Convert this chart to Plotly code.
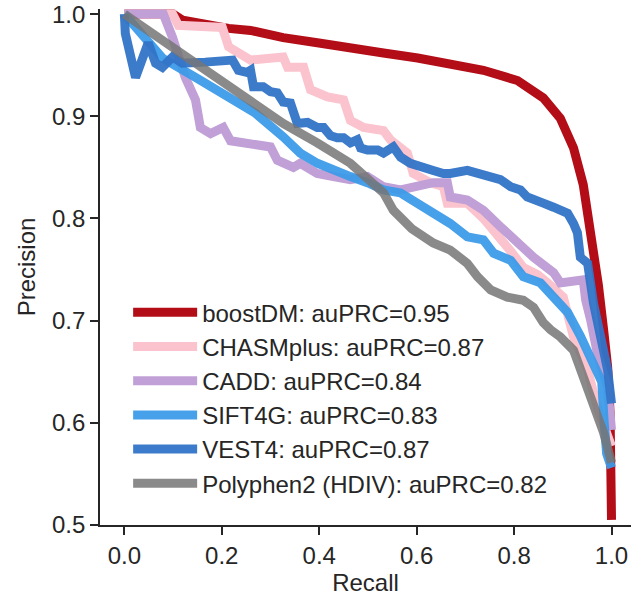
import plotly.graph_objects as go

# ---- data ----
tools = ["boostDM", "CHASMplus", "CADD", "SIFT4G", "VEST4", "Polyphen2 (HDIV)"]
auprc = [0.95, 0.87, 0.84, 0.83, 0.87, 0.82]
colors = ["#b30d18", "#fbc3cd", "#c0a0d6", "#3d9be9", "#3274c8", "#767676"]

boostdm_recall = [0.0, 0.05, 0.10, 0.12, 0.166, 0.214, 0.259, 0.326, 0.396, 0.464, 0.532, 0.602,
                  0.669, 0.737, 0.807, 0.86, 0.895, 0.922, 0.942, 0.953, 0.963, 0.973, 0.984,
                  0.992, 0.997, 0.999, 1.0]
boostdm_precision = [1.0, 1.0, 1.0, 0.994, 0.989, 0.986, 0.984, 0.977, 0.972, 0.968, 0.962, 0.957,
                     0.950, 0.945, 0.935, 0.918, 0.898, 0.869, 0.833, 0.80, 0.772, 0.735, 0.69,
                     0.655, 0.61, 0.56, 0.505]

chasm_recall = [0.0, 0.099, 0.111, 0.201, 0.214, 0.259, 0.326, 0.335, 0.368, 0.382, 0.417, 0.450,
                0.464, 0.491, 0.532, 0.546, 0.581, 0.593, 0.628, 0.655, 0.663, 0.704, 0.737,
                0.772, 0.793, 0.819, 0.848, 0.869, 0.901, 0.922, 0.951, 0.971, 0.992, 1.0]
chasm_precision = [1.0, 1.0, 0.989, 0.987, 0.968, 0.955, 0.958, 0.948, 0.948, 0.926, 0.919, 0.916,
                   0.896, 0.889, 0.886, 0.877, 0.864, 0.844, 0.835, 0.831, 0.815, 0.815, 0.80,
                   0.782, 0.768, 0.752, 0.745, 0.737, 0.723, 0.684, 0.652, 0.615, 0.590, 0.577]

cadd_recall = [0.0, 0.08, 0.099, 0.125, 0.146, 0.152, 0.156, 0.177, 0.203, 0.218, 0.259, 0.300,
               0.314, 0.347, 0.361, 0.396, 0.429, 0.464, 0.499, 0.532, 0.567, 0.602, 0.634,
               0.663, 0.669, 0.704, 0.737, 0.772, 0.807, 0.840, 0.881, 0.895, 0.942, 0.947,
               0.957, 0.971, 0.992, 1.0]
cadd_precision = [1.0, 1.0, 0.977, 0.938, 0.916, 0.893, 0.889, 0.883, 0.889, 0.876, 0.874, 0.870,
                  0.857, 0.850, 0.854, 0.844, 0.841, 0.838, 0.841, 0.831, 0.828, 0.831, 0.835,
                  0.835, 0.821, 0.818, 0.808, 0.792, 0.776, 0.762, 0.747, 0.737, 0.740, 0.720,
                  0.701, 0.668, 0.635, 0.593]

sift_recall = [0.0, 0.078, 0.146, 0.214, 0.269, 0.326, 0.361, 0.396, 0.429, 0.464, 0.499, 0.532,
               0.567, 0.602, 0.634, 0.669, 0.704, 0.737, 0.758, 0.793, 0.819, 0.854, 0.881,
               0.91, 0.936, 0.963, 0.98, 0.985, 0.99, 1.0]
sift_precision = [1.0, 0.957, 0.938, 0.919, 0.903, 0.880, 0.864, 0.854, 0.847, 0.841, 0.835, 0.828,
                  0.825, 0.815, 0.806, 0.795, 0.782, 0.779, 0.766, 0.759, 0.743, 0.737, 0.723,
                  0.708, 0.685, 0.660, 0.640, 0.60, 0.57, 0.556]

vest_recall = [0.0, 0.002, 0.023, 0.043, 0.049, 0.064, 0.078, 0.099, 0.119, 0.166, 0.201, 0.222,
               0.234, 0.252, 0.259, 0.265, 0.285, 0.300, 0.314, 0.326, 0.341, 0.347, 0.355,
               0.376, 0.396, 0.409, 0.423, 0.437, 0.450, 0.464, 0.478, 0.485, 0.499, 0.520,
               0.532, 0.552, 0.567, 0.587, 0.608, 0.622, 0.634, 0.655, 0.669, 0.704, 0.731,
               0.758, 0.772, 0.793, 0.813, 0.827, 0.848, 0.860, 0.881, 0.895, 0.910, 0.922,
               0.930, 0.936, 0.951, 0.963, 0.977, 0.992, 1.0]
vest_precision = [1.0, 0.981, 0.938, 0.965, 0.972, 0.952, 0.948, 0.958, 0.952, 0.953, 0.953, 0.955,
                  0.945, 0.943, 0.945, 0.929, 0.929, 0.924, 0.923, 0.914, 0.913, 0.904, 0.893,
                  0.894, 0.889, 0.889, 0.881, 0.879, 0.879, 0.874, 0.877, 0.869, 0.867, 0.867,
                  0.864, 0.870, 0.860, 0.854, 0.850, 0.847, 0.847, 0.844, 0.844, 0.847, 0.844,
                  0.840, 0.838, 0.831, 0.828, 0.821, 0.818, 0.815, 0.811, 0.808, 0.805, 0.795,
                  0.786, 0.762, 0.756, 0.717, 0.684, 0.652, 0.619]

polyphen_recall = [0.0, 0.269, 0.326, 0.396, 0.464, 0.532, 0.552, 0.59, 0.634, 0.669, 0.704,
                   0.725, 0.752, 0.786, 0.819, 0.840, 0.86, 0.875, 0.895, 0.922, 0.942, 0.963,
                   0.984, 1.0]
polyphen_precision = [1.0, 0.912, 0.893, 0.874, 0.854, 0.825, 0.808, 0.79, 0.776, 0.769, 0.756,
                      0.743, 0.730, 0.723, 0.720, 0.713, 0.698, 0.691, 0.684, 0.671, 0.645, 0.615,
                      0.590, 0.561]

x_ticks = [0.0, 0.2, 0.4, 0.6, 0.8, 1.0]
y_ticks = [0.5, 0.6, 0.7, 0.8, 0.9, 1.0]

series = [
    (boostdm_recall, boostdm_precision),
    (chasm_recall, chasm_precision),
    (cadd_recall, cadd_precision),
    (sift_recall, sift_precision),
    (vest_recall, vest_precision),
    (polyphen_recall, polyphen_precision),
]
opacities = [1.0, 1.0, 1.0, 0.95, 0.95, 0.85]

FONT = "Liberation Sans, Arial, sans-serif"
AX = "#262626"
FS = 24

fig = go.Figure()
for name, score, col, op, (rx, py) in zip(tools, auprc, colors, opacities, series):
    fig.add_trace(go.Scatter(
        x=rx, y=py, mode="lines", name=f"{name}: auPRC={score:.2f}",
        line=dict(color=col, width=9), opacity=op,
    ))

fig.update_layout(
    width=631, height=596,
    margin=dict(l=100, r=0, t=9, b=71),
    paper_bgcolor="white", plot_bgcolor="white",
    font=dict(family=FONT, size=FS, color=AX),
    showlegend=True,
    legend=dict(
        x=0.053, y=0.455, xanchor="left", yanchor="top",
        bgcolor="rgba(0,0,0,0)", borderwidth=0,
        font=dict(family=FONT, size=FS, color=AX),
        itemwidth=64, tracegroupgap=0,
    ),
)
fig.update_xaxes(
    automargin=False, ticklabeloverflow="allow",
    range=[-0.05, 1.04], tickvals=x_ticks, ticktext=[f"{v:.1f}" for v in x_ticks],
    showline=True, linecolor=AX, linewidth=1.6, mirror=False,
    ticks="outside", ticklen=8, tickwidth=1.6, tickcolor=AX,
    showgrid=False, zeroline=False,
    title=dict(text="Recall", font=dict(size=FS, color=AX), standoff=6),
)
fig.update_yaxes(
    automargin=False, ticklabeloverflow="allow",
    range=[0.5, 1.005], tickvals=y_ticks, ticktext=[f"{v:.1f}" for v in y_ticks],
    showline=True, linecolor=AX, linewidth=1.6, mirror=False,
    ticks="outside", ticklen=8, tickwidth=1.6, tickcolor=AX,
    showgrid=False, zeroline=False,
    title=dict(text="Precision", font=dict(size=FS, color=AX), standoff=10),
)

# remove the browser's default 8px page margin so the figure fills the window exactly
fig.write_html("out.html", config={"displayModeBar": False},
               post_script="document.body.style.margin='0';")
